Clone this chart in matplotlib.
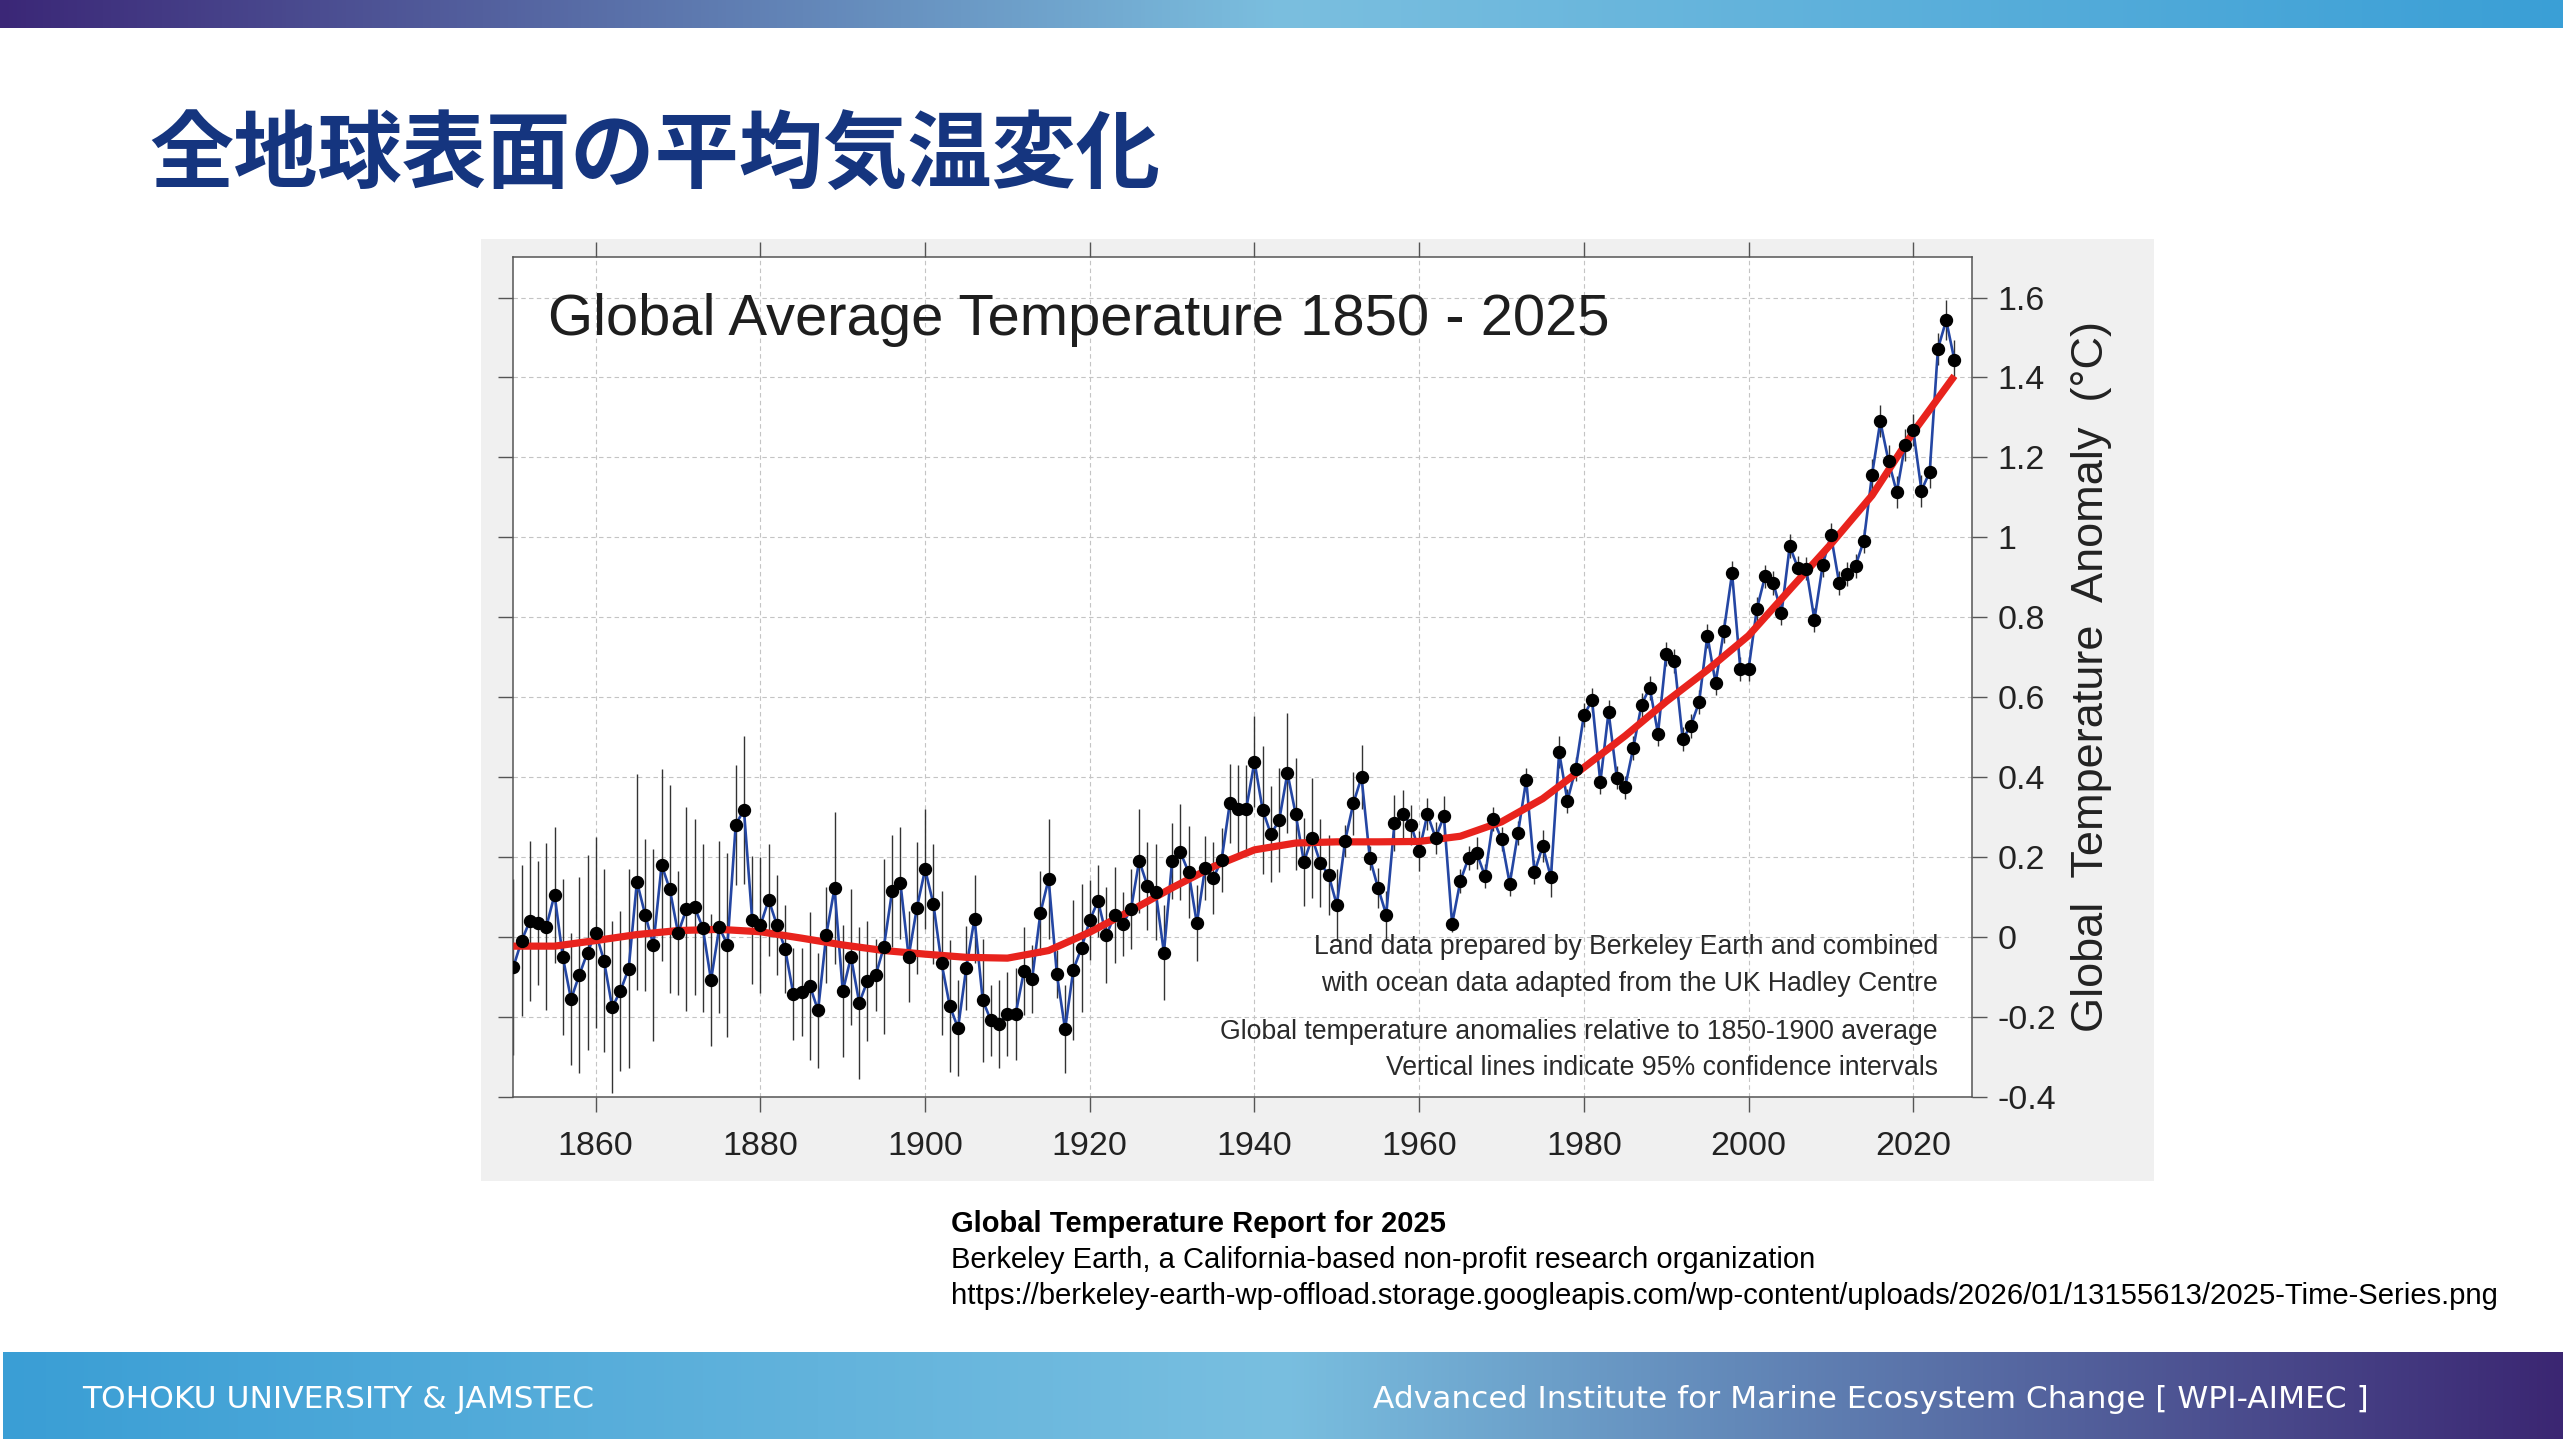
import numpy as np
import matplotlib
matplotlib.use('Agg')
import matplotlib.pyplot as plt
from matplotlib.patches import Rectangle

# ---- data ----
years = list(range(1850, 2026))
anomaly = [
    -0.075, -0.009, 0.040, 0.036, 0.026, 0.106, -0.050, -0.156, -0.095, -0.039,   # 1850s
    0.011, -0.059, -0.176, -0.135, -0.079, 0.138, 0.056, -0.020, 0.180, 0.119,     # 1860s
    0.009, 0.069, 0.075, 0.023, -0.108, 0.024, -0.020, 0.281, 0.318, 0.042,        # 1870s
    0.029, 0.093, 0.030, -0.030, -0.143, -0.138, -0.122, -0.184, 0.006, 0.122,     # 1880s
    -0.136, -0.050, -0.165, -0.110, -0.096, -0.024, 0.116, 0.135, -0.049, 0.073,   # 1890s
    0.169, 0.083, -0.066, -0.173, -0.228, -0.077, 0.046, -0.159, -0.209, -0.218,   # 1900s
    -0.192, -0.192, -0.086, -0.105, 0.060, 0.145, -0.093, -0.231, -0.082, -0.027,  # 1910s
    0.042, 0.090, 0.004, 0.054, 0.033, 0.069, 0.191, 0.128, 0.113, -0.039,         # 1920s
    0.191, 0.212, 0.162, 0.034, 0.173, 0.148, 0.192, 0.334, 0.321, 0.321,          # 1930s
    0.439, 0.317, 0.257, 0.292, 0.410, 0.308, 0.188, 0.248, 0.185, 0.155,          # 1940s
    0.080, 0.240, 0.334, 0.400, 0.198, 0.123, 0.056, 0.285, 0.307, 0.281,          # 1950s
    0.215, 0.307, 0.248, 0.302, 0.033, 0.140, 0.198, 0.209, 0.152, 0.294,          # 1960s
    0.245, 0.133, 0.260, 0.393, 0.162, 0.227, 0.149, 0.462, 0.341, 0.420,          # 1970s
    0.555, 0.592, 0.387, 0.563, 0.399, 0.374, 0.473, 0.581, 0.624, 0.509,          # 1980s
    0.707, 0.690, 0.495, 0.529, 0.588, 0.754, 0.635, 0.766, 0.910, 0.671,          # 1990s
    0.670, 0.820, 0.902, 0.886, 0.810, 0.978, 0.923, 0.922, 0.794, 0.930,          # 2000s
    1.006, 0.886, 0.909, 0.929, 0.992, 1.157, 1.290, 1.191, 1.113, 1.230,          # 2010s
    1.269, 1.117, 1.164, 1.472, 1.543, 1.444,                                      # 2020s
]
# half width of the 95% confidence interval
ci_half = [
    0.22, 0.19, 0.20, 0.155, 0.21, 0.17, 0.195, 0.165, 0.245, 0.245,
    0.24, 0.23, 0.215, 0.20, 0.25, 0.27, 0.19, 0.24, 0.24, 0.26,
    0.155, 0.255, 0.22, 0.21, 0.165, 0.215, 0.23, 0.15, 0.185, 0.16,
    0.17, 0.14, 0.125, 0.11, 0.115, 0.11, 0.185, 0.145, 0.12, 0.19,
    0.165, 0.17, 0.19, 0.15, 0.09, 0.22, 0.14, 0.14, 0.115, 0.165,
    0.15, 0.15, 0.18, 0.165, 0.12, 0.105, 0.11, 0.155, 0.09, 0.11,
    0.105, 0.115, 0.11, 0.085, 0.105, 0.15, 0.06, 0.11, 0.175, 0.16,
    0.10, 0.09, 0.12, 0.12, 0.08, 0.10, 0.13, 0.11, 0.12, 0.12,
    0.095, 0.12, 0.115, 0.095, 0.08, 0.09, 0.08, 0.10, 0.11, 0.11,
    0.115, 0.16, 0.12, 0.13, 0.15, 0.14, 0.11, 0.15, 0.11, 0.10,
    0.09, 0.04, 0.08, 0.08, 0.03, 0.05, 0.06, 0.07, 0.06, 0.05,
    0.05, 0.04, 0.04, 0.05, 0.02, 0.03, 0.03, 0.04, 0.03, 0.03,
    0.03, 0.03, 0.03, 0.03, 0.03, 0.04, 0.05, 0.04, 0.03, 0.03,
    0.03, 0.03, 0.03, 0.03, 0.03, 0.03, 0.03, 0.03, 0.03, 0.03,
    0.03, 0.03, 0.03, 0.03, 0.03, 0.03, 0.03, 0.03, 0.03, 0.03,
    0.03, 0.03, 0.03, 0.03, 0.03, 0.03, 0.03, 0.03, 0.03, 0.03,
    0.03, 0.03, 0.03, 0.03, 0.03, 0.04, 0.04, 0.04, 0.04, 0.04,
    0.04, 0.04, 0.04, 0.04, 0.05, 0.05,
]
# smoothed trend (red curve), every 5 years
smooth_years = list(range(1850, 2030, 5))
smooth_vals = [
    -0.023, -0.023, -0.009, 0.006, 0.016, 0.019, 0.013, -0.003, -0.020, -0.034,
    -0.043, -0.051, -0.053, -0.034, 0.012, 0.066, 0.123, 0.176, 0.218, 0.235,
    0.238, 0.238, 0.239, 0.252, 0.288, 0.346, 0.424, 0.503, 0.589, 0.668,
    0.754, 0.869, 0.983, 1.105, 1.263, 1.404,
]
xticks = [1860, 1880, 1900, 1920, 1940, 1960, 1980, 2000, 2020]
yticks = [-0.4, -0.2, 0, 0.2, 0.4, 0.6, 0.8, 1.0, 1.2, 1.4, 1.6]
ytick_labels = ['-0.4', '-0.2', '0', '0.2', '0.4', '0.6', '0.8', '1', '1.2', '1.4', '1.6']

plt.rcParams['font.family'] = ['Liberation Sans', 'DejaVu Sans']

W, H = 2563, 1442
fig = plt.figure(figsize=(W / 100, H / 100), dpi=100)
fig.patch.set_facecolor('white')


def px_box(x0, y0, x1, y1):
    # pixel box (top-left origin) -> figure fraction rect
    return [x0 / W, 1 - y1 / H, (x1 - x0) / W, (y1 - y0) / H]


def gradient_band(rect, stops):
    band = fig.add_axes(rect)
    pos = np.linspace(0, 1, 600)
    sp = [s[0] for s in stops]
    cols = np.array([matplotlib.colors.to_rgb(s[1]) for s in stops])
    img = np.stack([np.interp(pos, sp, cols[:, k]) for k in range(3)], axis=-1)
    band.imshow(img[None, :, :], aspect='auto', extent=(0, 1, 0, 1))
    band.set_axis_off()
    return band


# top banner
gradient_band(px_box(0, 0, W, 28), [(0, '#3b2777'), (0.5, '#7bbfdf'), (1, '#3a9fd6')])
# bottom banner
gradient_band(px_box(3, 1352, W, 1439), [(0, '#3a9ed5'), (0.5, '#79bfe0'), (1, '#3b2672')])
fig.text(82 / W, 1 - 1399 / H, 'TOHOKU UNIVERSITY & JAMSTEC', color='white',
         fontsize=22.5, family='DejaVu Sans', va='center', ha='left')
fig.text(2369 / W, 1 - 1399 / H, 'Advanced Institute for Marine Ecosystem Change [ WPI-AIMEC ]',
         color='white', fontsize=22.5, family='DejaVu Sans', va='center', ha='right')

# slide title
fig.text(149 / W, 1 - 157 / H, '全地球表面の平均気温変化', color='#15357f', fontsize=60.7,
         fontweight='bold', family=['Noto Sans CJK JP', 'DejaVu Sans'], va='center', ha='left')

# grey panel behind the chart
fig.patches.append(Rectangle((481 / W, 1 - 1181 / H), (2154 - 481) / W, (1181 - 239.3) / H,
                             transform=fig.transFigure, facecolor='#f0f0f0', edgecolor='none',
                             zorder=-10))

ax = fig.add_axes(px_box(513.4, 256.8, 1971.7, 1096.8))
ax.set_zorder(1)
ax.set_facecolor('white')

yrs = np.array(years)
vals = np.array(anomaly)
ci = np.array(ci_half)
ax.vlines(yrs, vals - ci, vals + ci, color='#333333', lw=1.0, zorder=2)
ax.plot(yrs, vals, color='#2446a3', lw=1.9, zorder=3)
ax.plot(smooth_years, smooth_vals, color='#e8231d', lw=5.2, solid_capstyle='butt',
        solid_joinstyle='round', zorder=4)
ax.plot(yrs, vals, 'o', color='black', ms=8.6, zorder=5)

ax.set_xlim(1850, 2027.1)
ax.set_ylim(-0.4, 1.702)
ax.set_xticks(xticks)
ax.set_yticks(yticks)
ax.set_yticklabels(ytick_labels)
ax.grid(True, color='#c4c4c4', linestyle=(0, (4, 3)), lw=0.8)
ax.set_axisbelow(True)
ax.tick_params(axis='both', direction='out', length=10.8, width=1, color='#555555',
               labelsize=24.5, labelcolor='#222222')
ax.tick_params(axis='x', top=True, bottom=True, pad=14)
ax.tick_params(axis='y', left=True, right=True, labelleft=False, labelright=True, pad=8)
for s in ax.spines.values():
    s.set_color('#555555')
    s.set_linewidth(1.1)

fig.text(548 / W, 1 - 335 / H, 'Global Average Temperature 1850 - 2025', fontsize=41.8,
         color='#1e1e1e', va='baseline', ha='left', zorder=6)
fig.text(2092 / W, 1 - 677 / H, 'Global  Temperature  Anomaly  (°C)', rotation=90,
         fontsize=32.5, color='#222222', va='center', ha='center', zorder=6)

notes = [
    ('Land data prepared by Berkeley Earth and combined', 954),
    ('with ocean data adapted from the UK Hadley Centre', 991),
    ('Global temperature anomalies relative to 1850-1900 average', 1039),
    ('Vertical lines indicate 95% confidence intervals', 1075),
]
for txt, yb in notes:
    fig.text(1938 / W, 1 - yb / H, txt, fontsize=19.2, color='#2a2a2a', va='baseline',
             ha='right', zorder=6)

# source lines under the chart
fig.text(951 / W, 1 - 1232 / H, 'Global Temperature Report for 2025', fontsize=21,
         fontweight='bold', color='black', va='baseline', ha='left')
fig.text(951 / W, 1 - 1268 / H, 'Berkeley Earth, a California-based non-profit research organization',
         fontsize=21, color='black', va='baseline', ha='left')
fig.text(951 / W, 1 - 1304 / H,
         'https://berkeley-earth-wp-offload.storage.googleapis.com/wp-content/uploads/2026/01/13155613/2025-Time-Series.png',
         fontsize=21.1, color='black', va='baseline', ha='left')

fig.savefig('out.png', dpi=100)
